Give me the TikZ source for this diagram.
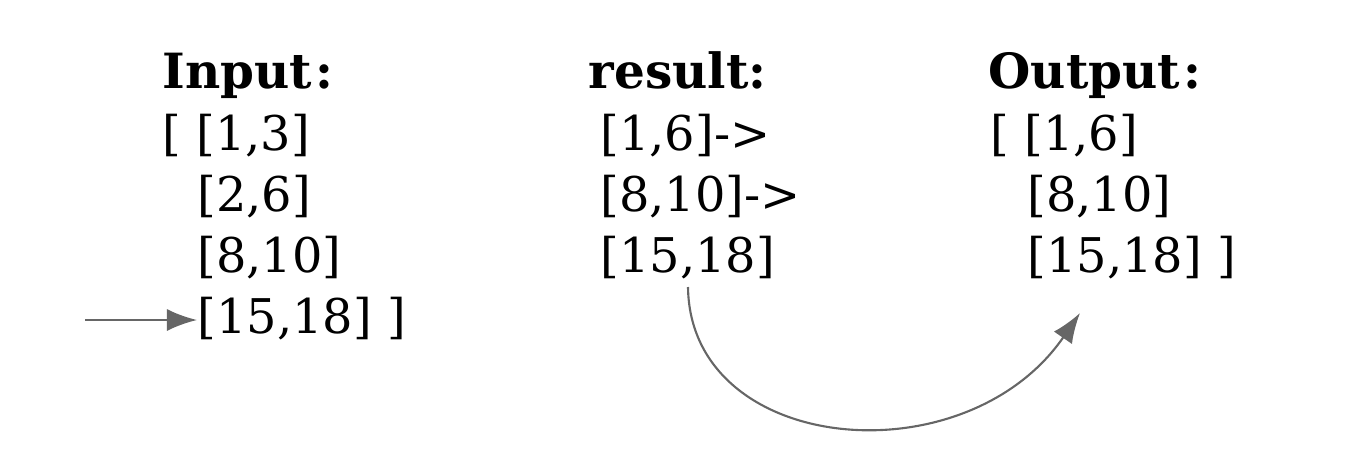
\documentclass[tikz,border=0pt]{standalone}
\usepackage{fontspec}
\setmainfont{DejaVu Serif}
\usetikzlibrary{positioning}
\usetikzlibrary{arrows.meta}

\begin{document}
\begin{tikzpicture}[x=0.01cm,y=-0.01cm,
	title/.style={anchor=base west, inner sep=0pt, font=\fontsize{13.8}{17}\selectfont\bfseries},
	entry/.style={anchor=base west, inner sep=0pt, font=\fontsize{13.6}{17}\selectfont},
	pointer/.style={draw=black!60, line width=0.6pt, -{Latex[length=3mm,width=2.2mm]}}]
	\useasboundingbox (0,0) rectangle (1372,472);

	% Input column
	\node[title] (inTitle) at (162,88) {Input\kern1pt:};
	\node[entry] (in1) at (162,150) {[ [1,3]};
	\node[entry] (in2) at (197,211) {[2,6]};
	\node[entry] (in3) at (197,272) {[8,10]};
	\node[entry] (in4) at (197,333) {[15,18] ]};

	% result column
	\node[title] (resTitle) at (588,88) {result:};
	\node[entry] (res1) at (600,150) {[1,6]->};
	\node[entry] (res2) at (600,211) {[8,10]->};
	\node[entry] (res3) at (600,272) {[15,18]};

	% Output column
	\node[title] (outTitle) at (988,88) {Output\kern1pt:};
	\node[entry] (out1) at (990,150) {[ [1,6]};
	\node[entry] (out2) at (1027,211) {[8,10]};
	\node[entry] (out3) at (1027,272) {[15,18] ]};

	% Connections
	\coordinate (ptrStart) at (85,320);
	\coordinate (curveStart) at (688,287);
	\coordinate (curveEnd) at (1080,313);
	\draw[pointer] (ptrStart) -- (in4.west |- ptrStart);
	\draw[pointer] (curveStart) .. controls (690,455) and (965,480) .. (curveEnd);
\end{tikzpicture}
\end{document}
